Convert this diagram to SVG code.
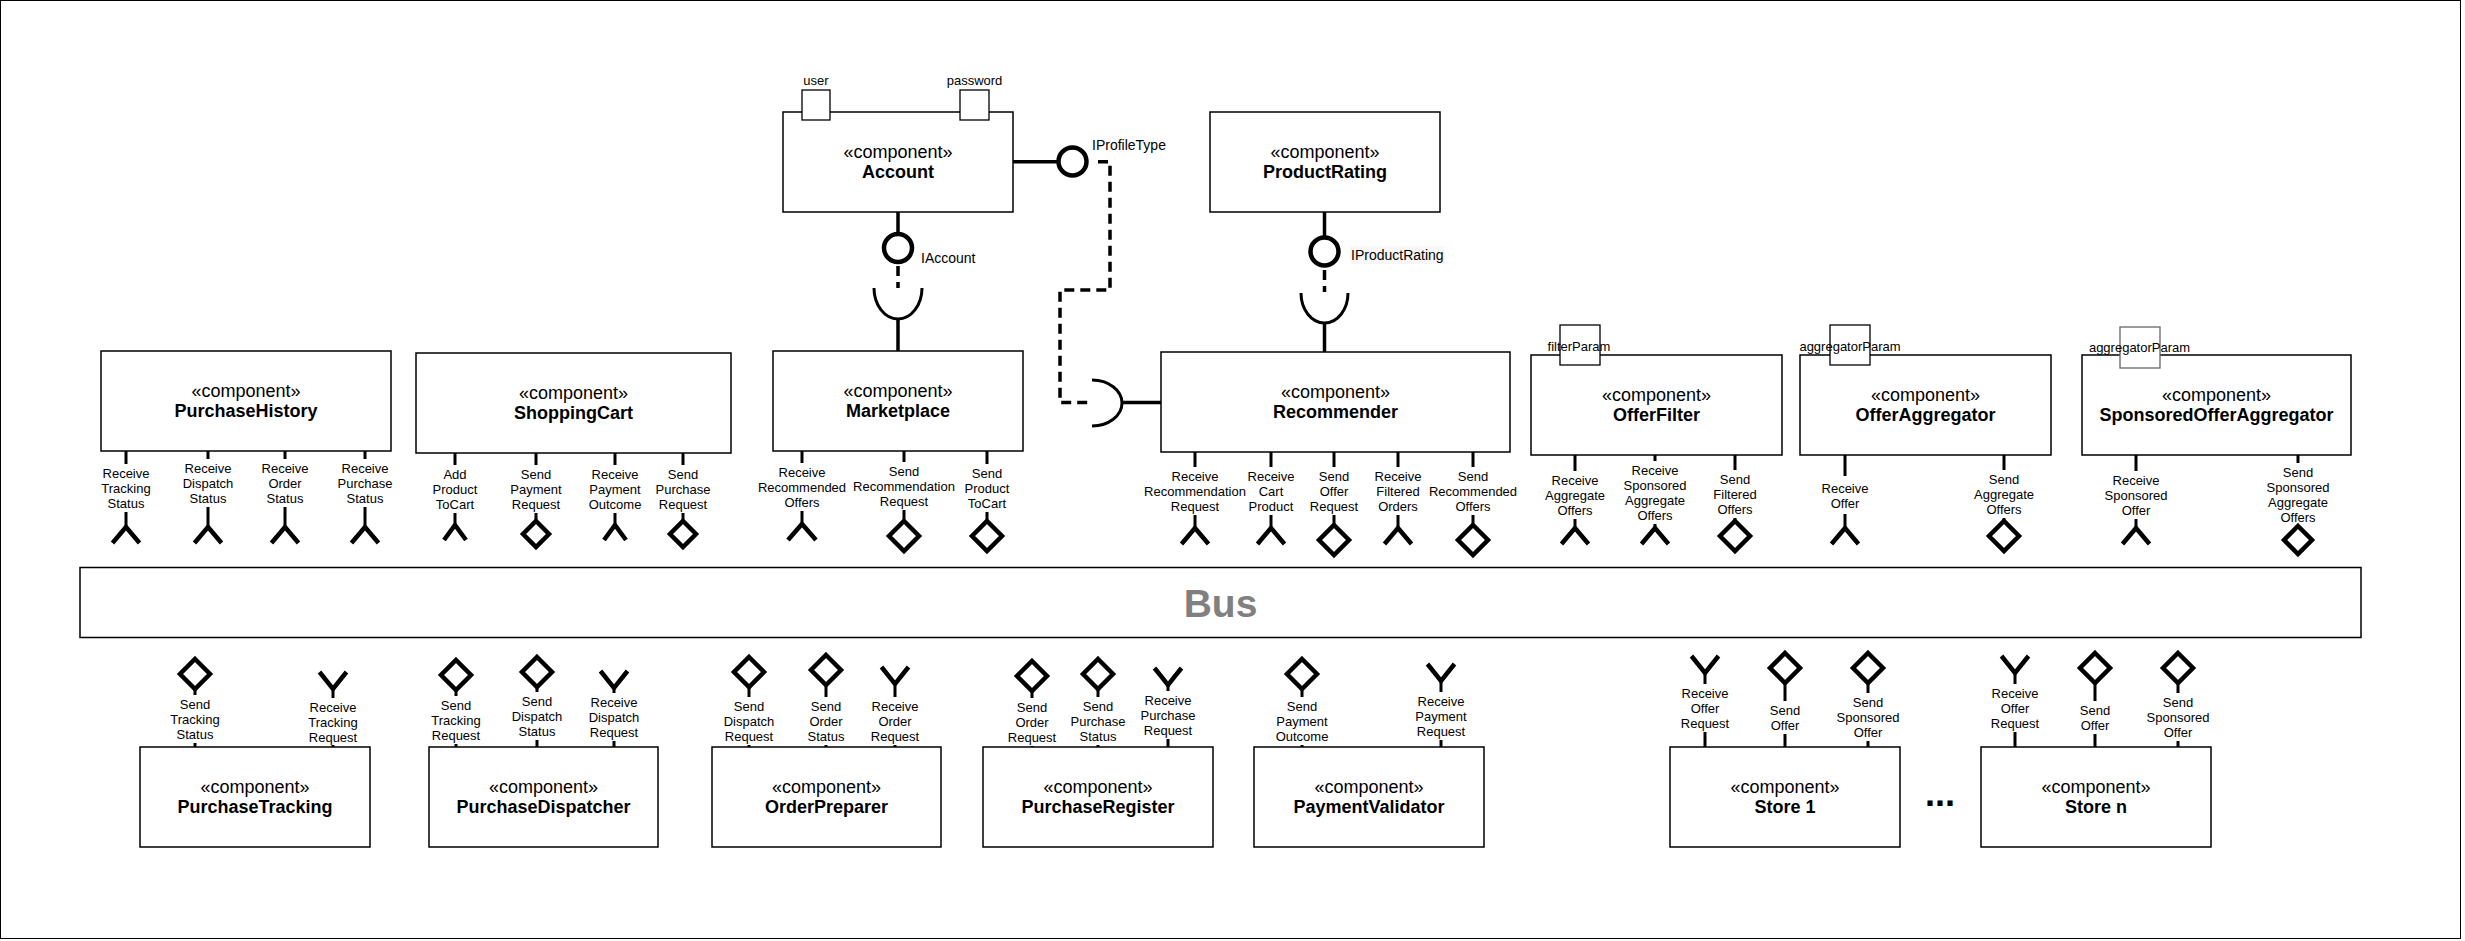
<svg xmlns="http://www.w3.org/2000/svg" width="2465" height="941" viewBox="0 0 2465 941">
<style>
text{font-family:"Liberation Sans",Arial,sans-serif;fill:#000}
.box{fill:#fff;stroke:#000;stroke-width:1.5}
.port{fill:#fff;stroke:#000;stroke-width:1.3}
.st{font-size:18px;text-anchor:middle}
.nm{font-size:18px;font-weight:bold;text-anchor:middle}
.lbl{font-size:13px;text-anchor:middle}
.pl{font-size:13px}
.il{font-size:14px}
.stem{stroke:#000;stroke-width:3}
.req{fill:none;stroke:#000;stroke-width:4.5}
.prov{fill:#fff;stroke:#000;stroke-width:4.5}
.lol{fill:#fff;stroke:#000;stroke-width:4.5}
.ln{stroke:#000;stroke-width:3.5;fill:none}
.sock{stroke:#000;stroke-width:3;fill:none}
.dash{stroke:#000;stroke-width:3.5;fill:none;stroke-dasharray:10 6}
</style>
<rect x="0.5" y="0.5" width="2460" height="938" fill="#fff" stroke="#000" stroke-width="1"/>

<g id="connectors">
  <line class="ln" x1="1013" y1="161.7" x2="1058" y2="161.7"/>
  <circle class="lol" cx="1072.5" cy="161.5" r="14"/>
  <path class="dash" d="M1098 161.7 H1110 V290 H1060 V402.5 H1092"/>
  <path class="sock" d="M1092 380 A30 23 0 0 1 1092 426"/>
  <line class="ln" x1="1122" y1="402.5" x2="1161" y2="402.5"/>
  <text class="il" x="1092" y="150">IProfileType</text>

  <line class="ln" x1="898" y1="212" x2="898" y2="234"/>
  <circle class="lol" cx="898" cy="248" r="14"/>
  <path class="dash" d="M898 266 V288"/>
  <path class="sock" d="M874 288 A24 31 0 0 0 922 288"/>
  <line class="ln" x1="898" y1="319" x2="898" y2="351"/>
  <text class="il" x="921" y="263">IAccount</text>

  <line class="ln" x1="1324.5" y1="212" x2="1324.5" y2="237"/>
  <circle class="lol" cx="1324.5" cy="251.5" r="14"/>
  <path class="dash" d="M1324.5 270 V292"/>
  <path class="sock" d="M1301 293 A23.5 30 0 0 0 1348 293"/>
  <line class="ln" x1="1324.5" y1="323" x2="1324.5" y2="352"/>
  <rect x="1350" y="246" width="95" height="18" fill="#f7f7f7"/>
  <text class="il" x="1351" y="260">IProductRating</text>
</g>

<g id="bus">
  <rect class="box" x="80" y="567.5" width="2281" height="70"/>
  <text x="1220.5" y="617" font-size="39" font-weight="bold" text-anchor="middle" style="fill:#808080">Bus</text>
</g>

<g id="account">
  <rect class="box" x="783" y="112" width="230" height="100"/>
  <text class="st" x="898" y="158">«component»</text>
  <text class="nm" x="898" y="178">Account</text>
  <rect class="port" x="802" y="90" width="28" height="30"/>
  <rect class="port" x="960" y="90" width="29" height="30"/>
  <text class="lbl" x="816" y="85">user</text>
  <text class="lbl" x="974.5" y="85">password</text>
</g>

<g id="productrating">
  <rect class="box" x="1210" y="112" width="230" height="100"/>
  <text class="st" x="1325" y="158">«component»</text>
  <text class="nm" x="1325" y="178">ProductRating</text>
</g>

<g id="purchasehistory">
  <rect class="box" x="101" y="351" width="290" height="100"/>
  <text class="st" x="246" y="397">«component»</text>
  <text class="nm" x="246" y="417">PurchaseHistory</text>
  <line class="stem" x1="126" y1="451" x2="126" y2="464"/><line class="stem" x1="126" y1="512" x2="126" y2="527"/>
  <text class="lbl"><tspan x="126" y="477.5">Receive</tspan><tspan x="126" y="492.5">Tracking</tspan><tspan x="126" y="507.5">Status</tspan></text>
  <polyline class="req" points="112.5,543 126,527 139.5,543"/>
  <line class="stem" x1="208" y1="451" x2="208" y2="459"/><line class="stem" x1="208" y1="507" x2="208" y2="527"/>
  <text class="lbl"><tspan x="208" y="472.5">Receive</tspan><tspan x="208" y="487.5">Dispatch</tspan><tspan x="208" y="502.5">Status</tspan></text>
  <polyline class="req" points="194.5,543 208,527 221.5,543"/>
  <line class="stem" x1="285" y1="451" x2="285" y2="459"/><line class="stem" x1="285" y1="507" x2="285" y2="527"/>
  <text class="lbl"><tspan x="285" y="472.5">Receive</tspan><tspan x="285" y="487.5">Order</tspan><tspan x="285" y="502.5">Status</tspan></text>
  <polyline class="req" points="271.5,543 285,527 298.5,543"/>
  <line class="stem" x1="365" y1="451" x2="365" y2="459"/><line class="stem" x1="365" y1="507" x2="365" y2="527"/>
  <text class="lbl"><tspan x="365" y="472.5">Receive</tspan><tspan x="365" y="487.5">Purchase</tspan><tspan x="365" y="502.5">Status</tspan></text>
  <polyline class="req" points="351.5,543 365,527 378.5,543"/>
</g>

<g id="shoppingcart">
  <rect class="box" x="416" y="353" width="315" height="100"/>
  <text class="st" x="573.5" y="399">«component»</text>
  <text class="nm" x="573.5" y="419">ShoppingCart</text>
  <line class="stem" x1="455" y1="453" x2="455" y2="465"/><line class="stem" x1="455" y1="513" x2="455" y2="525"/>
  <text class="lbl"><tspan x="455" y="478.5">Add</tspan><tspan x="455" y="493.5">Product</tspan><tspan x="455" y="508.5">ToCart</tspan></text>
  <polyline class="req" points="444,540 455,525 466,540"/>
  <line class="stem" x1="536" y1="453" x2="536" y2="465"/><line class="stem" x1="536" y1="513" x2="536" y2="521"/>
  <text class="lbl"><tspan x="536" y="478.5">Send</tspan><tspan x="536" y="493.5">Payment</tspan><tspan x="536" y="508.5">Request</tspan></text>
  <polygon class="prov" points="536,521 549,534 536,547 523,534"/>
  <line class="stem" x1="615" y1="453" x2="615" y2="465"/><line class="stem" x1="615" y1="513" x2="615" y2="525"/>
  <text class="lbl"><tspan x="615" y="478.5">Receive</tspan><tspan x="615" y="493.5">Payment</tspan><tspan x="615" y="508.5">Outcome</tspan></text>
  <polyline class="req" points="604,540 615,525 626,540"/>
  <line class="stem" x1="683" y1="453" x2="683" y2="465"/><line class="stem" x1="683" y1="513" x2="683" y2="521"/>
  <text class="lbl"><tspan x="683" y="478.5">Send</tspan><tspan x="683" y="493.5">Purchase</tspan><tspan x="683" y="508.5">Request</tspan></text>
  <polygon class="prov" points="683,521 696,534 683,547 670,534"/>
</g>

<g id="marketplace">
  <rect class="box" x="773" y="351" width="250" height="100"/>
  <text class="st" x="898" y="397">«component»</text>
  <text class="nm" x="898" y="417">Marketplace</text>
  <line class="stem" x1="802" y1="451" x2="802" y2="463"/><line class="stem" x1="802" y1="511" x2="802" y2="524"/>
  <text class="lbl"><tspan x="802" y="476.5">Receive</tspan><tspan x="802" y="491.5">Recommended</tspan><tspan x="802" y="506.5">Offers</tspan></text>
  <polyline class="req" points="788,540 802,524 816,540"/>
  <line class="stem" x1="904" y1="451" x2="904" y2="462"/><line class="stem" x1="904" y1="510" x2="904" y2="521"/>
  <text class="lbl"><tspan x="904" y="475.5">Send</tspan><tspan x="904" y="490.5">Recommendation</tspan><tspan x="904" y="505.5">Request</tspan></text>
  <polygon class="prov" points="904,521 919,536 904,551 889,536"/>
  <line class="stem" x1="987" y1="451" x2="987" y2="464"/><line class="stem" x1="987" y1="512" x2="987" y2="521"/>
  <text class="lbl"><tspan x="987" y="477.5">Send</tspan><tspan x="987" y="492.5">Product</tspan><tspan x="987" y="507.5">ToCart</tspan></text>
  <polygon class="prov" points="987,521 1002,536 987,551 972,536"/>
</g>

<g id="recommender">
  <rect class="box" x="1161" y="352" width="349" height="100"/>
  <text class="st" x="1335.5" y="398">«component»</text>
  <text class="nm" x="1335.5" y="418">Recommender</text>
  <line class="stem" x1="1195" y1="452" x2="1195" y2="467"/><line class="stem" x1="1195" y1="515" x2="1195" y2="528"/>
  <text class="lbl"><tspan x="1195" y="480.5">Receive</tspan><tspan x="1195" y="495.5">Recommendation</tspan><tspan x="1195" y="510.5">Request</tspan></text>
  <polyline class="req" points="1181.5,544 1195,528 1208.5,544"/>
  <line class="stem" x1="1271" y1="452" x2="1271" y2="467"/><line class="stem" x1="1271" y1="515" x2="1271" y2="528"/>
  <text class="lbl"><tspan x="1271" y="480.5">Receive</tspan><tspan x="1271" y="495.5">Cart</tspan><tspan x="1271" y="510.5">Product</tspan></text>
  <polyline class="req" points="1257.5,544 1271,528 1284.5,544"/>
  <line class="stem" x1="1334" y1="452" x2="1334" y2="467"/><line class="stem" x1="1334" y1="515" x2="1334" y2="525"/>
  <text class="lbl"><tspan x="1334" y="480.5">Send</tspan><tspan x="1334" y="495.5">Offer</tspan><tspan x="1334" y="510.5">Request</tspan></text>
  <polygon class="prov" points="1334,525 1349,540 1334,555 1319,540"/>
  <line class="stem" x1="1398" y1="452" x2="1398" y2="467"/><line class="stem" x1="1398" y1="515" x2="1398" y2="528"/>
  <text class="lbl"><tspan x="1398" y="480.5">Receive</tspan><tspan x="1398" y="495.5">Filtered</tspan><tspan x="1398" y="510.5">Orders</tspan></text>
  <polyline class="req" points="1384.5,544 1398,528 1411.5,544"/>
  <line class="stem" x1="1473" y1="452" x2="1473" y2="467"/><line class="stem" x1="1473" y1="515" x2="1473" y2="525"/>
  <text class="lbl"><tspan x="1473" y="480.5">Send</tspan><tspan x="1473" y="495.5">Recommended</tspan><tspan x="1473" y="510.5">Offers</tspan></text>
  <polygon class="prov" points="1473,525 1488,540 1473,555 1458,540"/>
</g>

<g id="offerfilter">
  <rect class="box" x="1531" y="355" width="251" height="100"/>
  <text class="st" x="1656.5" y="401">«component»</text>
  <text class="nm" x="1656.5" y="421">OfferFilter</text>
  <rect class="port" x="1560" y="325" width="40" height="40"/>
  <text class="lbl" x="1579" y="350.5">filterParam</text>
  <line class="stem" x1="1575" y1="455" x2="1575" y2="471"/><line class="stem" x1="1575" y1="519" x2="1575" y2="528"/>
  <text class="lbl"><tspan x="1575" y="484.5">Receive</tspan><tspan x="1575" y="499.5">Aggregate</tspan><tspan x="1575" y="514.5">Offers</tspan></text>
  <polyline class="req" points="1561.5,544 1575,528 1588.5,544"/>
  <line class="stem" x1="1655" y1="455" x2="1655" y2="461"/><line class="stem" x1="1655" y1="524" x2="1655" y2="528"/>
  <text class="lbl"><tspan x="1655" y="474.5">Receive</tspan><tspan x="1655" y="489.5">Sponsored</tspan><tspan x="1655" y="504.5">Aggregate</tspan><tspan x="1655" y="519.5">Offers</tspan></text>
  <polyline class="req" points="1641.5,544 1655,528 1668.5,544"/>
  <line class="stem" x1="1735" y1="455" x2="1735" y2="470"/><line class="stem" x1="1735" y1="518" x2="1735" y2="521"/>
  <text class="lbl"><tspan x="1735" y="483.5">Send</tspan><tspan x="1735" y="498.5">Filtered</tspan><tspan x="1735" y="513.5">Offers</tspan></text>
  <polygon class="prov" points="1735,521 1750,536 1735,551 1720,536"/>
</g>

<g id="offeraggregator">
  <rect class="box" x="1800" y="355" width="251" height="100"/>
  <text class="st" x="1925.5" y="401">«component»</text>
  <text class="nm" x="1925.5" y="421">OfferAggregator</text>
  <rect class="port" x="1830" y="325" width="40" height="40"/>
  <text class="lbl" x="1850" y="350.5">aggregatorParam</text>
  <line class="stem" x1="1845" y1="455" x2="1845" y2="476"/><line class="stem" x1="1845" y1="514" x2="1845" y2="528"/>
  <text class="lbl"><tspan x="1845" y="492.5">Receive</tspan><tspan x="1845" y="507.5">Offer</tspan></text>
  <polyline class="req" points="1831.5,544 1845,528 1858.5,544"/>
  <line class="stem" x1="2004" y1="455" x2="2004" y2="470"/><line class="stem" x1="2004" y1="518" x2="2004" y2="521"/>
  <text class="lbl"><tspan x="2004" y="483.5">Send</tspan><tspan x="2004" y="498.5">Aggregate</tspan><tspan x="2004" y="513.5">Offers</tspan></text>
  <polygon class="prov" points="2004,521 2019,536 2004,551 1989,536"/>
</g>

<g id="sponsoredofferaggregator">
  <rect class="box" x="2082" y="355" width="269" height="100"/>
  <text class="st" x="2216.5" y="401">«component»</text>
  <text class="nm" x="2216.5" y="421">SponsoredOfferAggregator</text>
  <rect class="port" x="2120" y="327" width="40" height="41" style="stroke:#666"/>
  <text class="lbl" x="2139.5" y="352">aggregatorParam</text>
  <line class="stem" x1="2136" y1="455" x2="2136" y2="471"/><line class="stem" x1="2136" y1="519" x2="2136" y2="528"/>
  <text class="lbl"><tspan x="2136" y="484.5">Receive</tspan><tspan x="2136" y="499.5">Sponsored</tspan><tspan x="2136" y="514.5">Offer</tspan></text>
  <polyline class="req" points="2122.5,544 2136,528 2149.5,544"/>
  <line class="stem" x1="2298" y1="455" x2="2298" y2="463"/>
  <text class="lbl"><tspan x="2298" y="476.5">Send</tspan><tspan x="2298" y="491.5">Sponsored</tspan><tspan x="2298" y="506.5">Aggregate</tspan><tspan x="2298" y="521.5">Offers</tspan></text>
  <polygon class="prov" points="2298,526 2312,540 2298,554 2284,540"/>
</g>

<g id="purchasetracking">
  <rect class="box" x="140" y="747" width="230" height="100"/>
  <text class="st" x="255" y="793">«component»</text>
  <text class="nm" x="255" y="813">PurchaseTracking</text>
  <polygon class="prov" points="195,659 210,674 195,689 180,674"/>
  <line class="stem" x1="195" y1="689" x2="195" y2="695"/><line class="stem" x1="195" y1="743" x2="195" y2="747"/>
  <text class="lbl"><tspan x="195" y="708.5">Send</tspan><tspan x="195" y="723.5">Tracking</tspan><tspan x="195" y="738.5">Status</tspan></text>
  <polyline class="req" points="319.5,672 333,689 346.5,672"/>
  <line class="stem" x1="333" y1="689" x2="333" y2="698"/><line class="stem" x1="333" y1="745" x2="333" y2="747"/>
  <text class="lbl"><tspan x="333" y="711.5">Receive</tspan><tspan x="333" y="726.5">Tracking</tspan><tspan x="333" y="741.5">Request</tspan></text>
</g>

<g id="purchasedispatcher">
  <rect class="box" x="429" y="747" width="229" height="100"/>
  <text class="st" x="543.5" y="793">«component»</text>
  <text class="nm" x="543.5" y="813">PurchaseDispatcher</text>
  <polygon class="prov" points="456,660 471,675 456,690 441,675"/>
  <line class="stem" x1="456" y1="690" x2="456" y2="696"/><line class="stem" x1="456" y1="744" x2="456" y2="747"/>
  <text class="lbl"><tspan x="456" y="709.5">Send</tspan><tspan x="456" y="724.5">Tracking</tspan><tspan x="456" y="739.5">Request</tspan></text>
  <polygon class="prov" points="537,657 552,672 537,687 522,672"/>
  <line class="stem" x1="537" y1="687" x2="537" y2="692"/><line class="stem" x1="537" y1="740" x2="537" y2="747"/>
  <text class="lbl"><tspan x="537" y="705.5">Send</tspan><tspan x="537" y="720.5">Dispatch</tspan><tspan x="537" y="735.5">Status</tspan></text>
  <polyline class="req" points="600.5,671 614,688 627.5,671"/>
  <line class="stem" x1="614" y1="688" x2="614" y2="693"/><line class="stem" x1="614" y1="741" x2="614" y2="747"/>
  <text class="lbl"><tspan x="614" y="706.5">Receive</tspan><tspan x="614" y="721.5">Dispatch</tspan><tspan x="614" y="736.5">Request</tspan></text>
</g>

<g id="orderpreparer">
  <rect class="box" x="712" y="747" width="229" height="100"/>
  <text class="st" x="826.5" y="793">«component»</text>
  <text class="nm" x="826.5" y="813">OrderPreparer</text>
  <polygon class="prov" points="749,657 764,672 749,687 734,672"/>
  <line class="stem" x1="749" y1="687" x2="749" y2="697"/><line class="stem" x1="749" y1="745" x2="749" y2="747"/>
  <text class="lbl"><tspan x="749" y="710.5">Send</tspan><tspan x="749" y="725.5">Dispatch</tspan><tspan x="749" y="740.5">Request</tspan></text>
  <polygon class="prov" points="826,655 841,670 826,685 811,670"/>
  <line class="stem" x1="826" y1="685" x2="826" y2="697"/><line class="stem" x1="826" y1="745" x2="826" y2="747"/>
  <text class="lbl"><tspan x="826" y="710.5">Send</tspan><tspan x="826" y="725.5">Order</tspan><tspan x="826" y="740.5">Status</tspan></text>
  <polyline class="req" points="881.5,667 895,684 908.5,667"/>
  <line class="stem" x1="895" y1="684" x2="895" y2="697"/><line class="stem" x1="895" y1="745" x2="895" y2="747"/>
  <text class="lbl"><tspan x="895" y="710.5">Receive</tspan><tspan x="895" y="725.5">Order</tspan><tspan x="895" y="740.5">Request</tspan></text>
</g>

<g id="purchaseregister">
  <rect class="box" x="983" y="747" width="230" height="100"/>
  <text class="st" x="1098" y="793">«component»</text>
  <text class="nm" x="1098" y="813">PurchaseRegister</text>
  <polygon class="prov" points="1032,661 1047,676 1032,691 1017,676"/>
  <line class="stem" x1="1032" y1="691" x2="1032" y2="698"/><line class="stem" x1="1032" y1="746" x2="1032" y2="747"/>
  <text class="lbl"><tspan x="1032" y="711.5">Send</tspan><tspan x="1032" y="726.5">Order</tspan><tspan x="1032" y="741.5">Request</tspan></text>
  <polygon class="prov" points="1098,659 1113,674 1098,689 1083,674"/>
  <line class="stem" x1="1098" y1="689" x2="1098" y2="697"/><line class="stem" x1="1098" y1="745" x2="1098" y2="747"/>
  <text class="lbl"><tspan x="1098" y="710.5">Send</tspan><tspan x="1098" y="725.5">Purchase</tspan><tspan x="1098" y="740.5">Status</tspan></text>
  <polyline class="req" points="1154.5,668 1168,685 1181.5,668"/>
  <line class="stem" x1="1168" y1="685" x2="1168" y2="691"/><line class="stem" x1="1168" y1="739" x2="1168" y2="747"/>
  <text class="lbl"><tspan x="1168" y="704.5">Receive</tspan><tspan x="1168" y="719.5">Purchase</tspan><tspan x="1168" y="734.5">Request</tspan></text>
</g>

<g id="paymentvalidator">
  <rect class="box" x="1254" y="747" width="230" height="100"/>
  <text class="st" x="1369" y="793">«component»</text>
  <text class="nm" x="1369" y="813">PaymentValidator</text>
  <polygon class="prov" points="1302,659 1317,674 1302,689 1287,674"/>
  <line class="stem" x1="1302" y1="689" x2="1302" y2="697"/><line class="stem" x1="1302" y1="745" x2="1302" y2="747"/>
  <text class="lbl"><tspan x="1302" y="710.5">Send</tspan><tspan x="1302" y="725.5">Payment</tspan><tspan x="1302" y="740.5">Outcome</tspan></text>
  <polyline class="req" points="1427.5,664 1441,681 1454.5,664"/>
  <line class="stem" x1="1441" y1="681" x2="1441" y2="692"/><line class="stem" x1="1441" y1="740" x2="1441" y2="747"/>
  <text class="lbl"><tspan x="1441" y="705.5">Receive</tspan><tspan x="1441" y="720.5">Payment</tspan><tspan x="1441" y="735.5">Request</tspan></text>
</g>

<g id="store1">
  <rect class="box" x="1670" y="747" width="230" height="100"/>
  <text class="st" x="1785" y="793">«component»</text>
  <text class="nm" x="1785" y="813">Store 1</text>
  <polyline class="req" points="1691.5,656 1705,673 1718.5,656"/>
  <line class="stem" x1="1705" y1="673" x2="1705" y2="684"/><line class="stem" x1="1705" y1="732" x2="1705" y2="747"/>
  <text class="lbl"><tspan x="1705" y="697.5">Receive</tspan><tspan x="1705" y="712.5">Offer</tspan><tspan x="1705" y="727.5">Request</tspan></text>
  <polygon class="prov" points="1785,653 1800,668 1785,683 1770,668"/>
  <line class="stem" x1="1785" y1="683" x2="1785" y2="701"/><line class="stem" x1="1785" y1="734" x2="1785" y2="747"/>
  <text class="lbl"><tspan x="1785" y="714.5">Send</tspan><tspan x="1785" y="729.5">Offer</tspan></text>
  <polygon class="prov" points="1868,653 1883,668 1868,683 1853,668"/>
  <line class="stem" x1="1868" y1="683" x2="1868" y2="693"/><line class="stem" x1="1868" y1="741" x2="1868" y2="747"/>
  <text class="lbl"><tspan x="1868" y="706.5">Send</tspan><tspan x="1868" y="721.5">Sponsored</tspan><tspan x="1868" y="736.5">Offer</tspan></text>
</g>

<text x="1940" y="806" font-size="36" font-weight="bold" text-anchor="middle">...</text>

<g id="storen">
  <rect class="box" x="1981" y="747" width="230" height="100"/>
  <text class="st" x="2096" y="793">«component»</text>
  <text class="nm" x="2096" y="813">Store n</text>
  <polyline class="req" points="2001.5,656 2015,673 2028.5,656"/>
  <line class="stem" x1="2015" y1="673" x2="2015" y2="684"/><line class="stem" x1="2015" y1="732" x2="2015" y2="747"/>
  <text class="lbl"><tspan x="2015" y="697.5">Receive</tspan><tspan x="2015" y="712.5">Offer</tspan><tspan x="2015" y="727.5">Request</tspan></text>
  <polygon class="prov" points="2095,653 2110,668 2095,683 2080,668"/>
  <line class="stem" x1="2095" y1="683" x2="2095" y2="701"/><line class="stem" x1="2095" y1="734" x2="2095" y2="747"/>
  <text class="lbl"><tspan x="2095" y="714.5">Send</tspan><tspan x="2095" y="729.5">Offer</tspan></text>
  <polygon class="prov" points="2178,653 2193,668 2178,683 2163,668"/>
  <line class="stem" x1="2178" y1="683" x2="2178" y2="693"/><line class="stem" x1="2178" y1="741" x2="2178" y2="747"/>
  <text class="lbl"><tspan x="2178" y="706.5">Send</tspan><tspan x="2178" y="721.5">Sponsored</tspan><tspan x="2178" y="736.5">Offer</tspan></text>
</g>
</svg>
